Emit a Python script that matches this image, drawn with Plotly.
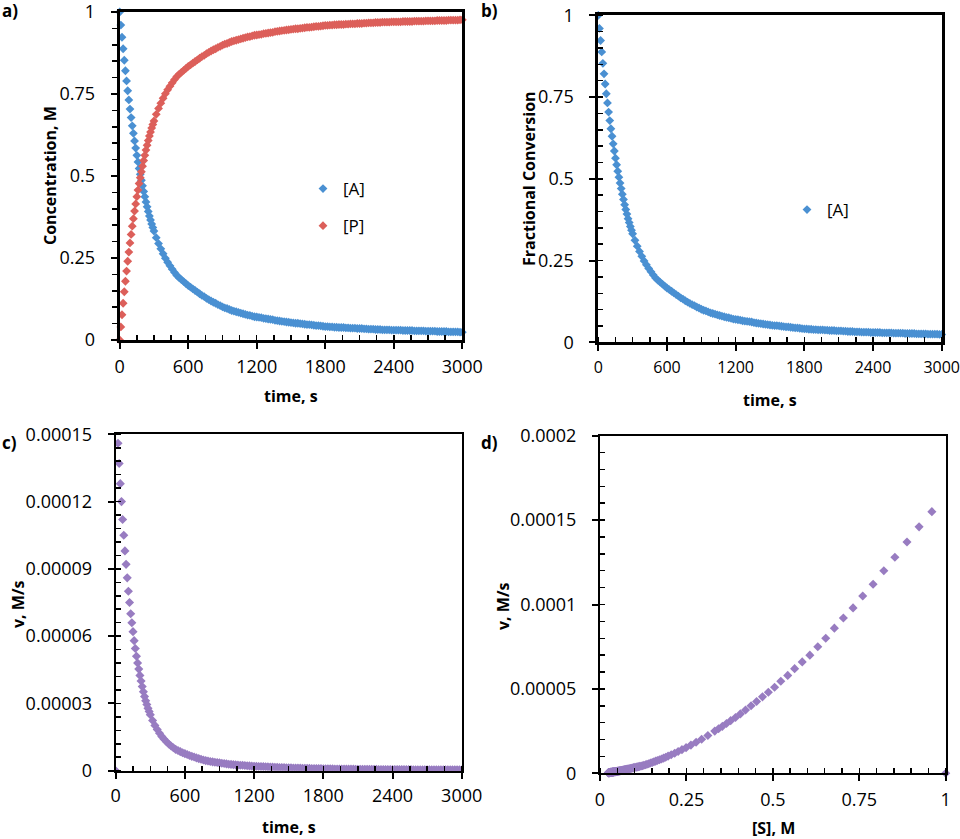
import plotly.graph_objects as go

# ---------------- data ----------------
# sampling times: every 10 s up to 300 s, then every 20 s
time_s = list(range(0, 301, 10)) + list(range(320, 3001, 20))

conc_A = [1.000, 0.960, 0.923, 0.888, 0.853, 0.821, 0.790, 0.760, 0.732, 0.704, 0.678,
          0.653, 0.630, 0.607, 0.585, 0.563, 0.543, 0.523, 0.505, 0.487, 0.470, 0.453,
          0.437, 0.421, 0.406, 0.392, 0.378, 0.366, 0.354, 0.343, 0.332,
          0.312, 0.294, 0.278, 0.263, 0.249, 0.237, 0.226, 0.216, 0.206, 0.197,
          0.190, 0.184, 0.178, 0.172, 0.166, 0.161, 0.156, 0.151, 0.146, 0.141,
          0.136, 0.132, 0.127, 0.123, 0.119, 0.115, 0.112, 0.108, 0.105, 0.101,
          0.098, 0.096, 0.093, 0.090, 0.088, 0.086, 0.084, 0.082, 0.080, 0.078,
          0.076, 0.075, 0.073, 0.071, 0.070, 0.069, 0.068, 0.066, 0.065, 0.064,
          0.063, 0.062, 0.060, 0.059, 0.058, 0.057, 0.056, 0.055, 0.054, 0.053,
          0.052, 0.051, 0.051, 0.050, 0.049, 0.048, 0.047, 0.047, 0.046, 0.045,
          0.044, 0.044, 0.043, 0.042, 0.041, 0.041, 0.040, 0.040, 0.039, 0.039,
          0.038, 0.038, 0.038, 0.037, 0.037, 0.036, 0.036, 0.036, 0.035, 0.035,
          0.035, 0.034, 0.034, 0.033, 0.033, 0.033, 0.032, 0.032, 0.032, 0.031,
          0.031, 0.031, 0.031, 0.030, 0.030, 0.030, 0.030, 0.030, 0.029, 0.029,
          0.029, 0.029, 0.029, 0.028, 0.028, 0.028, 0.028, 0.028, 0.027, 0.027,
          0.027, 0.027, 0.027, 0.026, 0.026, 0.026, 0.026, 0.026, 0.025, 0.025,
          0.025, 0.025, 0.025, 0.024, 0.024]

conc_P = [0.000, 0.040, 0.077, 0.112, 0.147, 0.179, 0.210, 0.240, 0.268, 0.296, 0.322,
          0.347, 0.370, 0.393, 0.415, 0.437, 0.457, 0.477, 0.495, 0.513, 0.530, 0.547,
          0.563, 0.579, 0.594, 0.608, 0.622, 0.634, 0.646, 0.657, 0.668,
          0.688, 0.706, 0.722, 0.737, 0.751, 0.763, 0.774, 0.784, 0.794, 0.803,
          0.810, 0.816, 0.822, 0.828, 0.834, 0.839, 0.844, 0.849, 0.854, 0.859,
          0.864, 0.868, 0.873, 0.877, 0.881, 0.885, 0.888, 0.892, 0.895, 0.899,
          0.902, 0.904, 0.907, 0.910, 0.912, 0.914, 0.916, 0.918, 0.920, 0.922,
          0.924, 0.925, 0.927, 0.929, 0.930, 0.931, 0.932, 0.934, 0.935, 0.936,
          0.937, 0.938, 0.940, 0.941, 0.942, 0.943, 0.944, 0.945, 0.946, 0.947,
          0.948, 0.949, 0.949, 0.950, 0.951, 0.952, 0.953, 0.953, 0.954, 0.955,
          0.956, 0.956, 0.957, 0.958, 0.959, 0.959, 0.960, 0.960, 0.961, 0.961,
          0.962, 0.962, 0.962, 0.963, 0.963, 0.964, 0.964, 0.964, 0.965, 0.965,
          0.965, 0.966, 0.966, 0.967, 0.967, 0.967, 0.968, 0.968, 0.968, 0.969,
          0.969, 0.969, 0.969, 0.970, 0.970, 0.970, 0.970, 0.970, 0.971, 0.971,
          0.971, 0.971, 0.971, 0.972, 0.972, 0.972, 0.972, 0.972, 0.973, 0.973,
          0.973, 0.973, 0.973, 0.974, 0.974, 0.974, 0.974, 0.974, 0.975, 0.975,
          0.975, 0.975, 0.975, 0.976, 0.976]

# fractional conversion of A (panel b) is [A]/[A]0 with [A]0 = 1 M
frac_A = conc_A

# rate v in micro-M/s (panel c and d)
rate_v_uM = [0, 155, 146, 137, 128, 120, 112, 105, 98, 92, 86,
             80, 75, 70, 66, 62, 58, 54.5, 51, 48, 45.3, 42.5,
             40.0, 37.5, 35.2, 33.1, 31.2, 29.5, 27.8, 26.4, 25.0,
             22.4, 20.2, 18.4, 16.7, 15.2, 14.0, 12.9, 11.9, 11.0, 10.2,
             9.5, 9.0, 8.5, 8.0, 7.6, 7.2, 6.8, 6.4, 6.1, 5.7,
             5.4, 5.1, 4.8, 4.5, 4.3, 4.1, 3.95, 3.8, 3.65, 3.5,
             3.35, 3.2, 3.05, 2.9, 2.8, 2.7, 2.6, 2.5, 2.45, 2.4,
             2.3, 2.2, 2.15, 2.05, 2.0, 1.95, 1.9, 1.85, 1.8, 1.75,
             1.7, 1.65, 1.6, 1.55, 1.5, 1.46, 1.42, 1.38, 1.34, 1.30,
             1.26, 1.22, 1.19, 1.16, 1.13, 1.10, 1.07, 1.05, 1.02, 0.99,
             0.97, 0.95, 0.93, 0.91, 0.88, 0.86, 0.84, 0.83, 0.81, 0.79,
             0.78, 0.76, 0.75, 0.73, 0.71, 0.70, 0.69, 0.68, 0.67, 0.65,
             0.64, 0.63, 0.62, 0.61, 0.60, 0.59, 0.58, 0.57, 0.56, 0.55,
             0.54, 0.53, 0.53, 0.52, 0.51, 0.50, 0.50, 0.49, 0.48, 0.48,
             0.47, 0.46, 0.46, 0.45, 0.45, 0.44, 0.44, 0.43, 0.43, 0.42,
             0.42, 0.41, 0.41, 0.40, 0.40, 0.39, 0.39, 0.39, 0.38, 0.38,
             0.37, 0.37, 0.37, 0.36, 0.36]
rate_v = [r * 1e-6 for r in rate_v_uM]   # unit conversion to M/s

# substrate concentration [S] paired with v (panel d)
subs_S = conc_A

# tick definitions
time_ticks = [0, 600, 1200, 1800, 2400, 3000]
time_labels = ["0", "600", "1200", "1800", "2400", "3000"]
frac_ticks = [0, 0.25, 0.5, 0.75, 1]
frac_labels = ["0", "0.25", "0.5", "0.75", "1"]
v_ticks_c = [0, 0.00003, 0.00006, 0.00009, 0.00012, 0.00015]
v_labels_c = ["0", "0.00003", "0.00006", "0.00009", "0.00012", "0.00015"]
v_ticks_d = [0, 0.00005, 0.0001, 0.00015, 0.0002]
v_labels_d = ["0", "0.00005", "0.0001", "0.00015", "0.0002"]
s_ticks = [0, 0.25, 0.5, 0.75, 1]
s_labels = ["0", "0.25", "0.5", "0.75", "1"]

BLUE = "#4A90D2"
RED = "#DC5F5A"
PURPLE = "#987CC1"
FONT = "Open Sans, Lato, sans-serif"

W, H = 960, 839


def xd(l, r):
    return [l / W, r / W]


def yd(t, b):
    return [1 - b / H, 1 - t / H]


fig = go.Figure()

# panel a
fig.add_trace(go.Scatter(x=time_s, y=conc_A, mode="markers", name="[A]",
                         marker=dict(symbol="diamond", size=6.8, color=BLUE),
                         xaxis="x", yaxis="y", cliponaxis=False,
                         legend="legend", legendgroup="a1"))
fig.add_trace(go.Scatter(x=time_s, y=conc_P, mode="markers", name="[P]",
                         marker=dict(symbol="diamond", size=6.8, color=RED),
                         xaxis="x", yaxis="y", cliponaxis=False,
                         legend="legend", legendgroup="a2"))
# panel b
fig.add_trace(go.Scatter(x=time_s, y=frac_A, mode="markers", name="[A]",
                         marker=dict(symbol="diamond", size=6.8, color=BLUE),
                         xaxis="x2", yaxis="y2", cliponaxis=False,
                         legend="legend2"))
# panel c
fig.add_trace(go.Scatter(x=time_s, y=rate_v, mode="markers", name="v",
                         marker=dict(symbol="diamond", size=7, color=PURPLE),
                         xaxis="x3", yaxis="y3", cliponaxis=True, showlegend=False))
# panel d
fig.add_trace(go.Scatter(x=subs_S, y=rate_v, mode="markers", name="v",
                         marker=dict(symbol="diamond", size=7, color=PURPLE),
                         xaxis="x4", yaxis="y4", cliponaxis=False, showlegend=False))


def axis(domain, anchor, rng, tickvals, ticktext, minor_dtick, lw,
         minor_side, standoff, fsize=18):
    return dict(domain=domain, anchor=anchor, range=rng, automargin=False,
                tickmode="array", tickvals=tickvals, ticktext=ticktext,
                showgrid=False, zeroline=False,
                showline=True, linecolor="black", linewidth=lw, mirror=True,
                ticks="outside", ticklen=6, tickwidth=2, tickcolor="black",
                minor=dict(dtick=minor_dtick, tick0=0, ticks=minor_side, ticklen=5,
                           tickwidth=1.5, tickcolor="black", showgrid=False),
                tickfont=dict(family=FONT, size=fsize, color="black"),
                ticklabelstandoff=standoff, ticklabeloverflow="allow",
                fixedrange=True)


fig.update_layout(
    xaxis=axis(xd(119.7, 462.3), "y", [0, 3000], time_ticks, time_labels, 150, 3, "inside", 2),
    yaxis=axis(yd(12, 340), "x", [0, 1], frac_ticks, frac_labels, 0.05, 3, "outside", 12),
    xaxis2=axis(xd(598.3, 941.7), "y2", [0, 3000], time_ticks, time_labels, 150, 3, "inside", 2,
                fsize=16),
    yaxis2=axis(yd(15.3, 342.3), "x2", [0, 1], frac_ticks, frac_labels, 0.05, 3, "inside", 12),
    xaxis3=axis(xd(115.7, 461.7), "y3", [0, 3000], time_ticks, time_labels, 150, 2, "inside", 2),
    yaxis3=axis(yd(434.3, 770.7), "x3", [0, 0.00015], v_ticks_c, v_labels_c, 0.000006, 2, "inside", 12),
    xaxis4=axis(xd(600, 945.7), "y4", [0, 1], s_ticks, s_labels, 0.05, 2, "inside", 3),
    yaxis4=axis(yd(435.7, 773.3), "x4", [0, 0.0002], v_ticks_d, v_labels_d, 0.00001, 2, "inside", 12),
)


def ann(text, px, py, size=16, bold=True, angle=0, xanchor="center"):
    return dict(text=("<b>%s</b>" % text) if bold else text,
                x=px / W, y=1 - py / H, xref="paper", yref="paper",
                xanchor=xanchor, yanchor="middle", showarrow=False, textangle=angle,
                font=dict(family=FONT, size=size, color="black"))


annotations = [
    ann("a)", 0, 11, size=17, xanchor="left"),
    ann("b)", 479, 11, size=17, xanchor="left"),
    ann("c)", 0, 442, size=17, xanchor="left"),
    ann("d)", 479, 442, size=17, xanchor="left"),
    ann("Concentration, M", 50, 176, angle=-90),
    ann("time, s", 291, 396),
    ann("Fractional Conversion", 529, 179, angle=-90),
    ann("time, s", 770, 400),
    ann("v, M/s", 18, 604, angle=-90),
    ann("time, s", 289, 827),
    ann("v, M/s", 503, 606, angle=-90),
    ann("[S], M", 773, 828),
]

fig.update_layout(
    width=W, height=H,
    margin=dict(l=0, r=0, t=0, b=0, autoexpand=False),
    paper_bgcolor="white", plot_bgcolor="white",
    font=dict(family=FONT, size=17, color="black"),
    annotations=annotations,
    legend=dict(x=(343 - 40) / W, y=1 - 171 / H, xanchor="left", yanchor="top",
                bgcolor="rgba(0,0,0,0)", borderwidth=0, tracegroupgap=12,
                font=dict(family=FONT, size=17, color="black"), itemsizing="trace"),
    legend2=dict(x=(827 - 40) / W, y=1 - 192 / H, xanchor="left", yanchor="top",
                 bgcolor="rgba(0,0,0,0)", borderwidth=0,
                 font=dict(family=FONT, size=17, color="black"), itemsizing="trace"),
    showlegend=True,
)

fig.write_html("out.html",
               config={"displayModeBar": False, "staticPlot": True},
               post_script="document.body.style.margin='0px';"
                           "document.body.style.overflow='hidden';")
